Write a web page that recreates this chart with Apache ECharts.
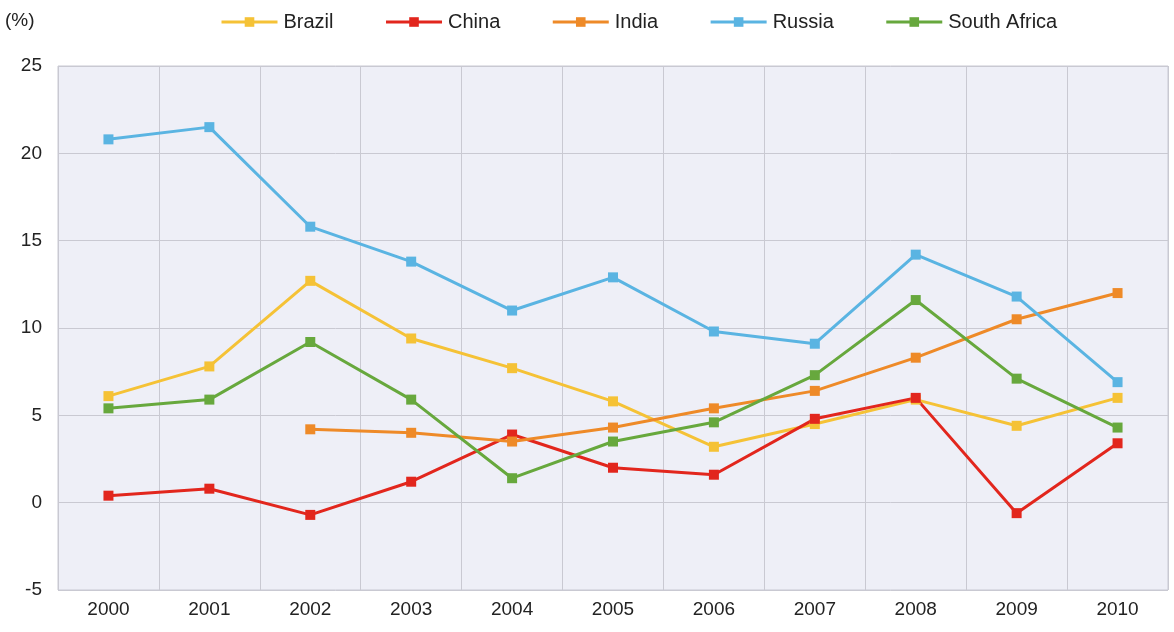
<!DOCTYPE html>
<html><head><meta charset="utf-8">
<script src="https://cdn.jsdelivr.net/npm/echarts@6/dist/echarts.min.js"></script>
<style>html,body{margin:0;padding:0;background:#fff}#c{width:1174px;height:632px}</style>
</head><body><div id="c"></div>
<script>
const years = ['2000','2001','2002','2003','2004','2005','2006','2007','2008','2009','2010'];
const brazil = [6.1, 7.8, 12.7, 9.4, 7.7, 5.8, 3.2, 4.5, 5.9, 4.4, 6.0];
const china = [0.4, 0.8, -0.7, 1.2, 3.9, 2.0, 1.6, 4.8, 6.0, -0.6, 3.4];
const india = [null, null, 4.2, 4.0, 3.5, 4.3, 5.4, 6.4, 8.3, 10.5, 12.0];
const russia = [20.8, 21.5, 15.8, 13.8, 11.0, 12.9, 9.8, 9.1, 14.2, 11.8, 6.9];
const southAfrica = [5.4, 5.9, 9.2, 5.9, 1.4, 3.5, 4.6, 7.3, 11.6, 7.1, 4.3];
const yTicks = [-5, 0, 5, 10, 15, 20, 25];

const names = ['Brazil','China','India','Russia','South Africa'];
const datas = [brazil, china, india, russia, southAfrica];
const colors = ['#f5c236','#e2261d','#ee8a28','#5ab4e2','#67a83d'];
const FONT = 'Liberation Sans, Arial, sans-serif';

const chart = echarts.init(document.getElementById('c'));
chart.setOption({
  animation: false,
  textStyle: {fontFamily: FONT},
  legend: {
    top: 7, left: 215,
    itemWidth: 56, itemHeight: 12, itemGap: 51,
    lineStyle: {width: 3},
    textStyle: {fontSize: 20, color: '#222', fontFamily: FONT, padding: [0,0,0,1]},
    data: names
  },
  graphic: [{type:'text', left: 5, top: 11, style:{text:'(%)', fontSize: 19, fill:'#222', fontFamily: FONT}}],
  grid: {left: 58, right: 6, top: 66, bottom: 42, show: true, backgroundColor: '#eeeff7', borderColor: '#c9c9d2', borderWidth: 1},
  xAxis: {
    type: 'category', data: years, boundaryGap: true,
    axisLine: {show: false}, axisTick: {show: false},
    axisLabel: {fontSize: 19, color: '#222', margin: 10},
    splitLine: {show: true, lineStyle: {color: '#c9c9d2', width: 1}}
  },
  yAxis: {
    type: 'value', min: yTicks[0], max: yTicks[yTicks.length-1], interval: 5,
    axisLine: {show: false}, axisTick: {show: false},
    axisLabel: {fontSize: 19, color: '#222', margin: 16},
    splitLine: {show: true, lineStyle: {color: '#c9c9d2', width: 1}}
  },
  series: names.map((n, i) => ({
    name: n, type: 'line', data: datas[i],
    symbol: 'rect', symbolSize: 10, showSymbol: true,
    connectNulls: false,
    lineStyle: {color: colors[i], width: 3},
    itemStyle: {color: colors[i]}
  }))
});
</script></body></html>
